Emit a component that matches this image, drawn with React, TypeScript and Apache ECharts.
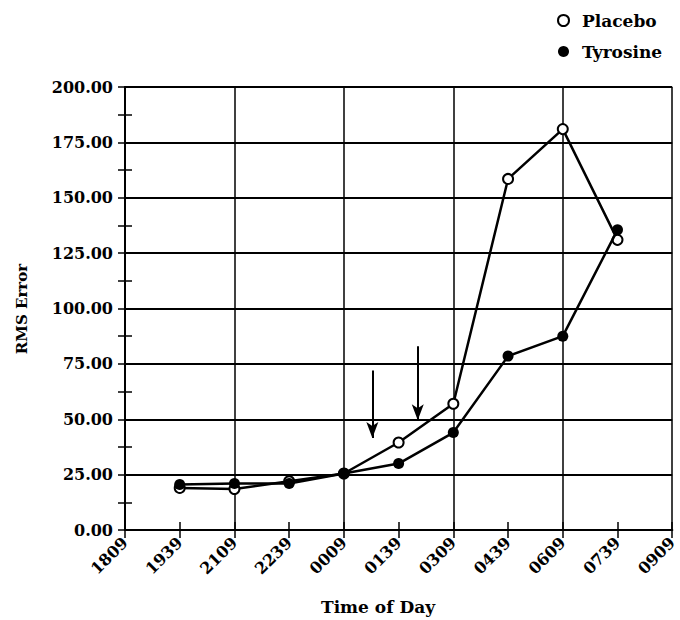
import React, { useEffect, useRef } from "react";
import * as echarts from "echarts";

const xLabels = ["1809", "1939", "2109", "2239", "0009", "0139", "0309", "0439", "0609", "0739", "0909"];
const sampleIdx = [1, 2, 3, 4, 5, 6, 7, 8, 9];
const placebo = [19, 18.5, 22, 25.5, 39.5, 57, 158.5, 181, 131];
const tyrosine = [20.5, 21, 21, 25.5, 30, 44, 78.5, 87.5, 135.5];
// arrows: [x, yTop, yBottom]
const arrows = [
  [4.52, 72, 41.5],
  [5.35, 83, 49.5],
];

const FONT = "DejaVu Serif";

export default function App() {
  const ref = useRef<HTMLDivElement>(null);
  useEffect(() => {
    if (!ref.current) return;
    const chart = echarts.init(ref.current, undefined, { renderer: "svg" });
    const axisLine = { show: true, lineStyle: { color: "#000", width: 2 } };
    const tickStyle = { color: "#000", width: 1.5 };
    chart.setOption({
      animation: false,
      backgroundColor: "#fff",
      grid: { left: 125, right: 1, top: 87, bottom: 90 },
      legend: {
        orient: "vertical",
        left: 552,
        top: 7,
        itemGap: 14,
        itemWidth: 11,
        itemHeight: 11,
        textStyle: { fontFamily: FONT, fontWeight: "bold", fontSize: 17, color: "#000", padding: [0, 0, 0, 8] },
        data: [
          { name: "Placebo", icon: "circle", itemStyle: { color: "#fff", borderColor: "#000", borderWidth: 2 } },
          { name: "Tyrosine", icon: "circle", itemStyle: { color: "#000", borderColor: "#000", borderWidth: 0 } },
        ],
      },
      xAxis: [
        {
          type: "value",
          min: 0,
          max: 10,
          interval: 1,
          position: "bottom",
          axisLine,
          axisTick: { show: true, inside: true, length: 8, lineStyle: tickStyle },
          splitLine: { show: false },
          axisLabel: {
            rotate: 45,
            margin: 10,
            fontFamily: FONT,
            fontWeight: "bold",
            fontSize: 16,
            color: "#000",
            formatter: (v: number) => xLabels[Math.round(v)] ?? "",
          },
        },
        {
          type: "value",
          min: 0,
          max: 10,
          interval: 1,
          position: "top",
          axisLine,
          axisTick: { show: true, inside: true, length: 8, lineStyle: tickStyle },
          axisLabel: { show: false },
          splitLine: { show: false },
        },
        {
          type: "value",
          min: 0,
          max: 10,
          interval: 2,
          position: "bottom",
          axisLine: { show: false },
          axisTick: { show: false },
          axisLabel: { show: false },
          splitLine: { show: true, lineStyle: { color: "#000", width: 1.5 } },
        },
      ],
      yAxis: [
        {
          type: "value",
          min: 0,
          max: 200,
          interval: 25,
          position: "left",
          axisLine,
          axisTick: { show: true, inside: true, length: 7, lineStyle: tickStyle },
          minorTick: { show: true, splitNumber: 2, length: 7, lineStyle: tickStyle },
          splitLine: { show: true, lineStyle: { color: "#000", width: 2 } },
          axisLabel: {
            margin: 12,
            fontFamily: FONT,
            fontWeight: "bold",
            fontSize: 16,
            color: "#000",
            formatter: (v: number) => v.toFixed(2),
          },
        },
        {
          type: "value",
          min: 0,
          max: 200,
          interval: 25,
          position: "right",
          axisLine,
          axisTick: { show: true, inside: true, length: 7, lineStyle: tickStyle },
          minorTick: { show: true, splitNumber: 2, length: 7, lineStyle: tickStyle },
          splitLine: { show: false },
          axisLabel: { show: false },
        },
      ],
      graphic: [
        {
          type: "text",
          x: 22,
          y: 309,
          rotation: Math.PI / 2,
          style: {
            text: "RMS Error",
            fontFamily: FONT,
            fontWeight: "bold",
            fontSize: 15,
            fill: "#000",
            align: "center",
            verticalAlign: "middle",
          },
        },
        {
          type: "text",
          x: 378,
          y: 607,
          style: {
            text: "Time of Day",
            fontFamily: FONT,
            fontWeight: "bold",
            fontSize: 17,
            fill: "#000",
            align: "center",
            verticalAlign: "middle",
          },
        },
      ],
      series: [
        {
          name: "Placebo",
          type: "line",
          xAxisIndex: 0,
          yAxisIndex: 0,
          data: sampleIdx.map((x, i) => [x, placebo[i]]),
          symbol: "circle",
          symbolSize: 10,
          lineStyle: { color: "#000", width: 2.5 },
          itemStyle: { color: "#fff", borderColor: "#000", borderWidth: 2 },
          z: 3,
          markLine: {
            silent: true,
            symbol: ["none", "arrow"],
            symbolSize: [9, 16],
            label: { show: false },
            lineStyle: { color: "#000", width: 2, type: "solid" },
            data: arrows.map((a) => [
              { coord: [a[0], a[1]] },
              { coord: [a[0], a[2]] },
            ]),
          },
        },
        {
          name: "Tyrosine",
          type: "line",
          xAxisIndex: 0,
          yAxisIndex: 0,
          data: sampleIdx.map((x, i) => [x, tyrosine[i]]),
          symbol: "circle",
          symbolSize: 11,
          lineStyle: { color: "#000", width: 2.5 },
          itemStyle: { color: "#000", borderColor: "#000", borderWidth: 0 },
          z: 4,
        },
      ],
    });
    return () => chart.dispose();
  }, []);
  return (
    <div
      ref={ref}
      style={{ position: "fixed", left: 0, top: 0, width: 680, height: 620, background: "#fff" }}
    />
  );
}
